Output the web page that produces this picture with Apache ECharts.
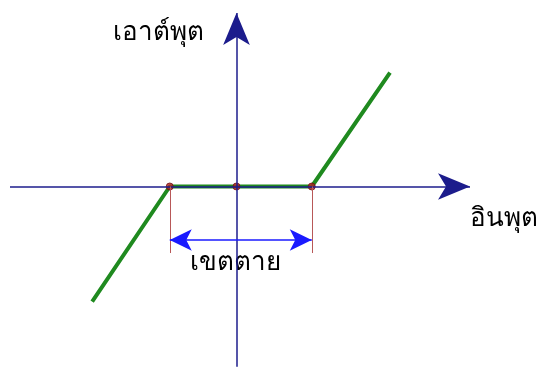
<!DOCTYPE html>
<html>
<head>
<meta charset="utf-8">
<script src="https://cdn.jsdelivr.net/npm/echarts@6/dist/echarts.min.js"></script>
<style>
  html, body { margin: 0; padding: 0; background: #fff; }
  #chart { width: 539px; height: 367px; }
</style>
</head>
<body>
<div id="chart"></div>
<script>
// dead-zone characteristic, values in arbitrary input/output units
const curveX = [-2.033, -0.94, 1.06, 2.162]
const curveY = [-1.62, 0, 0, 1.603]
const pointX = [-0.94, 0, 1.06]
const pointY = [0, 0, 0]
const edgeBottom = -0.937
const spanY = -0.754
const axisXFrom = -3.19
const axisXTo = 3.289
const axisYFrom = -2.54
const axisYTo = 2.444

const chart = echarts.init(document.getElementById('chart'))

const font = 'Tahoma, "DejaVu Sans", sans-serif'

const option = {
  animation: false,
  grid: {left: 0, right: 0, top: 0, bottom: 0},
  xAxis: {type: 'value', min: -3.331, max: 4.2606, show: false},
  yAxis: {type: 'value', min: -2.5423, max: 2.6268, show: false},
  series: [
    {
      // axes
      type: 'line',
      data: [],
      markLine: {
        silent: true,
        symbol: ['none', 'arrow'],
        symbolSize: [20, 32],
        label: {show: false},
        lineStyle: {color: '#1c1c8c', width: 1.5, type: 'solid'},
        data: [
          [{coord: [axisXFrom, 0]}, {coord: [axisXTo, 0]}],
          [{coord: [0, axisYFrom]}, {coord: [0, axisYTo]}],
        ],
      },
    },
    {
      // dead zone edges
      type: 'line',
      data: [],
      markLine: {
        silent: true,
        symbol: ['none', 'none'],
        label: {show: false},
        lineStyle: {color: '#b85858', width: 1, type: 'solid'},
        data: [
          [{coord: [curveX[1], 0]}, {coord: [curveX[1], edgeBottom]}],
          [{coord: [curveX[2], 0]}, {coord: [curveX[2], edgeBottom]}],
        ],
      },
    },
    {
      // dead zone width arrow
      type: 'line',
      data: [],
      markLine: {
        silent: true,
        symbol: ['arrow', 'arrow'],
        symbolSize: [16, 22],
        label: {show: false},
        lineStyle: {color: '#1a1aff', width: 1.5, type: 'solid'},
        data: [
          [{coord: [curveX[1], spanY]}, {coord: [curveX[2], spanY]}],
        ],
      },
    },
    {
      type: 'line',
      data: curveX.map((x, i) => [x, curveY[i]]),
      symbol: 'none',
      lineStyle: {color: '#1f8a1f', width: 4},
      z: 3,
    },
    {
      type: 'scatter',
      data: pointX.map((x, i) => [x, pointY[i]]),
      symbolSize: 7,
      itemStyle: {color: '#b02020', borderColor: '#701010', borderWidth: 1},
      z: 4,
    },
  ],
  graphic: [
    {type: 'text', left: 113, top: 20, style: {text: 'เอาต์พุต', font: '26px ' + font, fill: '#000'}},
    {type: 'text', left: 470, top: 206, style: {text: 'อินพุต', font: '26px ' + font, fill: '#000'}},
    {type: 'text', left: 190, top: 250, style: {text: 'เขตตาย', font: '26px ' + font, fill: '#000'}},
  ],
}

option && chart.setOption(option)
</script>
</body>
</html>
